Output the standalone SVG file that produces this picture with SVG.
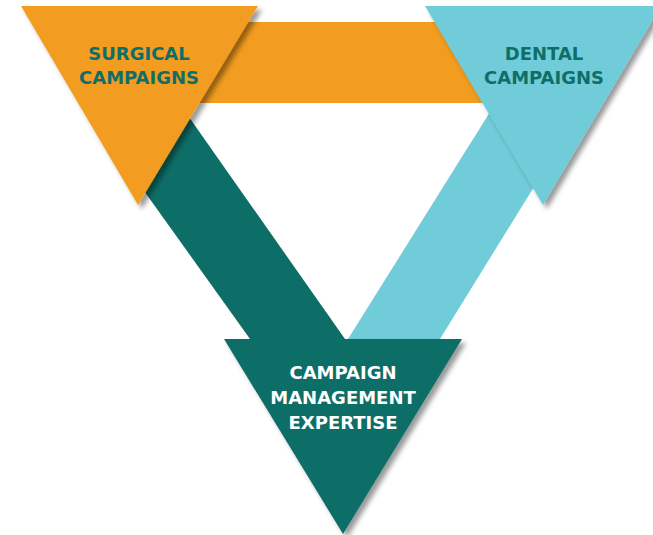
<svg xmlns="http://www.w3.org/2000/svg" width="653" height="535" viewBox="0 0 653 535">
  <defs>
    <filter id="shadow" x="-20%" y="-20%" width="140%" height="140%">
      <feDropShadow dx="4" dy="4" stdDeviation="2.5" flood-color="#000" flood-opacity="0.4"/>
    </filter>
  </defs>
  <style>
    .orange { fill: #F29C20; }
    .cyan { fill: #6FCCD8; }
    .teal { fill: #0D6E67; }
    .lbl { font-family: "DejaVu Sans", "Liberation Sans", sans-serif; font-weight: bold; font-size: 18px; text-anchor: middle; }
    .dark { fill: #0F6E68; }
    .light { fill: #FFFFFF; }
  </style>
  <rect width="653" height="535" fill="#FFFFFF"/>
  <g id="connectors">
    <polygon class="orange" points="190,22 492,22 492,103 190,103"/>
    <polygon class="teal" points="79,100 177,100 345,339 250,339"/>
    <polygon class="cyan" points="510,80 600,80 440,339 348,339"/>
  </g>
  <g id="node-surgical">
    <polygon class="orange" filter="url(#shadow)" points="21,6 258,6 138,205"/>
    <text class="lbl dark" x="139" y="60">SURGICAL</text>
    <text class="lbl dark" x="139" y="84">CAMPAIGNS</text>
  </g>
  <g id="node-dental">
    <polygon class="cyan" filter="url(#shadow)" points="425,6 661,6 543,205"/>
    <text class="lbl dark" x="544" y="60">DENTAL</text>
    <text class="lbl dark" x="544" y="84">CAMPAIGNS</text>
  </g>
  <g id="node-campaign">
    <polygon class="teal" filter="url(#shadow)" points="224,339 462,339 343,534"/>
    <text class="lbl light" x="343" y="379">CAMPAIGN</text>
    <text class="lbl light" x="343" y="404">MANAGEMENT</text>
    <text class="lbl light" x="343" y="429">EXPERTISE</text>
  </g>
</svg>
